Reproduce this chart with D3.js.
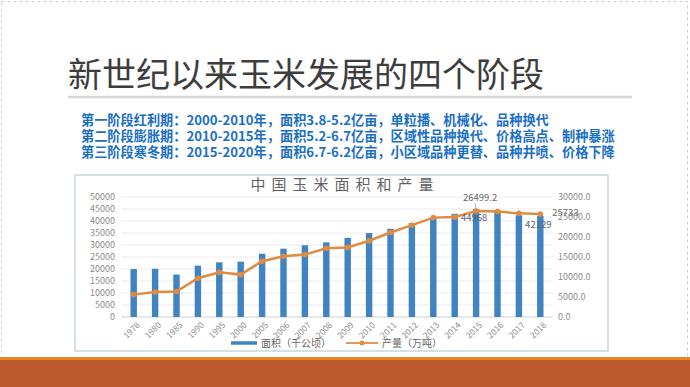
<!DOCTYPE html>
<html>
<head>
<meta charset="utf-8">
<script src="https://cdn.jsdelivr.net/npm/d3@7/dist/d3.min.js"></script>
<style>
    body { margin: 0; background: #fff; }
    text { font-family: "Noto Sans CJK SC", "DejaVu Sans", sans-serif; }
</style>
</head>
<body>
<svg id="slide" width="690" height="387"></svg>
<script>
let years = ["1978", "1980", "1985", "1990", "1995", "2000", "2005", "2006", "2007", "2008",
    "2009", "2010", "2011", "2012", "2013", "2014", "2015", "2016", "2017", "2018"];
let area = [19961, 20087, 17694, 21401, 22776, 23056, 26358, 28463, 29900, 31100,
    33000, 34977, 36767, 39109, 41299, 42997, 44968, 44178, 42399, 42129];
let production = [5594.5, 6260, 6382.6, 9681.9, 11198.6, 10600, 13936.5, 15160.3, 15600, 17200,
    17400, 19075, 21132, 22956, 24845, 24976, 26499.2, 26361, 25907, 25733];
let areaTicks = [0, 5000, 10000, 15000, 20000, 25000, 30000, 35000, 40000, 45000, 50000];
let prodTicks = [0, 5000, 10000, 15000, 20000, 25000, 30000];
let labelYears = ["2015", "2018"];
let legendNames = ["面积（千公顷）", "产量（万吨）"];
let title = "新世纪以来玉米发展的四个阶段";
let chartTitle = "中国玉米面积和产量";
let notes = [
    "第一阶段红利期：2000-2010年，面积3.8-5.2亿亩，单粒播、机械化、品种换代",
    "第二阶段膨胀期：2010-2015年，面积5.2-6.7亿亩，区域性品种换代、价格高点、制种暴涨",
    "第三阶段寒冬期：2015-2020年，面积6.7-6.2亿亩，小区域品种更替、品种井喷、价格下降"
];

let svg = d3.select("#slide");
let barColor = "#3f83c3",
    lineColor = "#e08b42",
    axisText = "#8c8c8c";

// slide frame, title and notes
svg.append("rect")
    .attr("x", 1.5).attr("y", 1.5)
    .attr("width", 686).attr("height", 384)
    .attr("fill", "none")
    .attr("stroke", "#cfcfcf")
    .attr("stroke-dasharray", "3 3");

svg.append("text")
    .attr("x", 68).attr("y", 87)
    .attr("font-size", 34)
    .attr("fill", "#3d3d3d")
    .text(title);

svg.append("line")
    .attr("x1", 68).attr("x2", 632)
    .attr("y1", 97).attr("y2", 97)
    .attr("stroke", "#d6d6d6")
    .attr("stroke-width", 2.5);

svg.selectAll("text.note")
    .data(notes)
    .enter()
    .append("text")
    .attr("class", "note")
    .attr("x", 81)
    .attr("y", function (d, i) { return 125 + i * 16; })
    .attr("font-size", 13.2)
    .attr("font-weight", "bold")
    .attr("fill", "#1a6fc4")
    .text(function (d) { return d; });

// chart box
svg.append("rect")
    .attr("x", 75).attr("y", 175)
    .attr("width", 533).attr("height", 176)
    .attr("fill", "#fff")
    .attr("stroke", "#c9d6dc")
    .attr("stroke-width", 1.5);

svg.append("text")
    .attr("x", 345).attr("y", 190)
    .attr("text-anchor", "middle")
    .attr("font-size", 15)
    .attr("letter-spacing", 6)
    .attr("fill", "#5f5f5f")
    .text(chartTitle);

let xScale = d3.scaleBand().domain(years)
    .range([123, 551])
    .paddingInner(0.7)
    .paddingOuter(0.35);

let yLeft = d3.scaleLinear().domain([0, 50000]).range([317, 197]);
let yRight = d3.scaleLinear().domain([0, 30000]).range([317, 197]);

let grid = svg.append("g");
grid.selectAll("line")
    .data(areaTicks)
    .enter()
    .append("line")
    .attr("x1", 121).attr("x2", 553)
    .attr("y1", function (d) { return yLeft(d); })
    .attr("y2", function (d) { return yLeft(d); })
    .attr("stroke", function (d) { return d === 0 ? "#d0d0d0" : "#ebebeb"; })
    .attr("stroke-width", 1);

let leftAxis = svg.append("g")
    .attr("transform", "translate(121,0)")
    .call(d3.axisLeft(yLeft).tickValues(areaTicks).tickSize(0).tickPadding(6)
        .tickFormat(d3.format("d")));

let rightAxis = svg.append("g")
    .attr("transform", "translate(553,0)")
    .call(d3.axisRight(yRight).tickValues(prodTicks).tickSize(0).tickPadding(5)
        .tickFormat(d3.format(".1f")));

let bottomAxis = svg.append("g")
    .attr("transform", "translate(0,317)")
    .call(d3.axisBottom(xScale).tickSize(0).tickPadding(4));

[leftAxis, rightAxis, bottomAxis].forEach(function (g) {
    g.select(".domain").remove();
    g.selectAll("text")
        .attr("font-family", "DejaVu Sans")
        .attr("font-size", 9)
        .attr("fill", axisText);
});

bottomAxis.selectAll("text")
    .attr("font-size", 8.5)
    .attr("text-anchor", "end")
    .attr("dy", "0.3em")
    .attr("transform", "translate(2,4) rotate(-45)");

svg.append("g")
    .selectAll("rect")
    .data(years)
    .enter()
    .append("rect")
    .attr("x", function (d) { return xScale(d); })
    .attr("width", xScale.bandwidth())
    .attr("y", function (d, i) { return yLeft(area[i]); })
    .attr("height", function (d, i) { return 317 - yLeft(area[i]); })
    .attr("fill", barColor);

let cx = function (d) { return xScale(d) + xScale.bandwidth() / 2; };

let line = d3.line()
    .x(function (d) { return cx(d); })
    .y(function (d, i) { return yRight(production[i]); });

svg.append("path")
    .datum(years)
    .attr("d", line)
    .attr("fill", "none")
    .attr("stroke", lineColor)
    .attr("stroke-width", 2.5);

svg.append("g")
    .selectAll("circle")
    .data(years)
    .enter()
    .append("circle")
    .attr("cx", cx)
    .attr("cy", function (d, i) { return yRight(production[i]); })
    .attr("r", 2.8)
    .attr("fill", lineColor);

// data labels for 2015 and 2018
labelYears.forEach(function (year, k) {
    let i = years.indexOf(year);
    let x = cx(year);
    let py = yRight(production[i]);
    let by = yLeft(area[i]);
    if (k === 0) {
        svg.append("line")
            .attr("x1", x).attr("x2", x - 1)
            .attr("y1", py - 2).attr("y2", py - 8)
            .attr("stroke", "#9a9a9a").attr("stroke-width", 0.8);
        svg.append("text")
            .attr("x", x + 4).attr("y", py - 10)
            .attr("text-anchor", "middle")
            .attr("font-family", "DejaVu Sans").attr("font-size", 9.5)
            .attr("fill", "#6a6a6a")
            .text(String(production[i]));
    } else {
        svg.append("text")
            .attr("x", x + 12).attr("y", py + 2)
            .attr("font-family", "DejaVu Sans").attr("font-size", 9.5)
            .attr("fill", "#6a6a6a")
            .text(String(production[i]));
    }
    svg.append("text")
        .attr("x", x - 2).attr("y", by + 12)
        .attr("text-anchor", "middle")
        .attr("font-family", "DejaVu Sans").attr("font-size", 9.5)
        .attr("fill", "#5a6470")
        .text(String(area[i]));
});

// legend
let legend = svg.append("g").attr("transform", "translate(0,343)");
legend.append("line")
    .attr("x1", 231).attr("x2", 257)
    .attr("stroke", barColor).attr("stroke-width", 3.5);
legend.append("text")
    .attr("x", 261).attr("y", 3.5)
    .attr("font-size", 10).attr("fill", "#666")
    .text(legendNames[0]);
legend.append("line")
    .attr("x1", 346).attr("x2", 378)
    .attr("stroke", lineColor).attr("stroke-width", 1.8);
legend.append("circle")
    .attr("cx", 362).attr("r", 2.5)
    .attr("fill", lineColor);
legend.append("text")
    .attr("x", 382).attr("y", 3.5)
    .attr("font-size", 10).attr("fill", "#666")
    .text(legendNames[1]);

// bottom band
svg.append("rect")
    .attr("x", 0).attr("y", 357)
    .attr("width", 690).attr("height", 30)
    .attr("fill", "#bc5a2d");
svg.append("rect")
    .attr("x", 0).attr("y", 357)
    .attr("width", 690).attr("height", 3)
    .attr("fill", "#e8861f");
</script>
</body>
</html>
